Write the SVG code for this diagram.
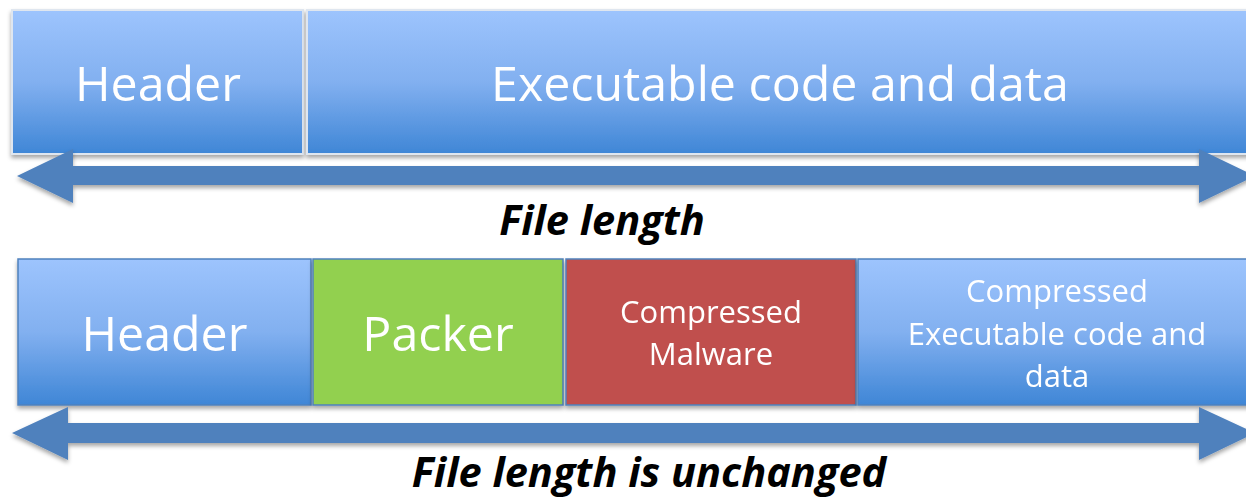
<svg xmlns="http://www.w3.org/2000/svg" width="1246" height="500" viewBox="0 0 1246 500">
  <defs>
    <linearGradient id="blueGrad" x1="0" y1="0" x2="0" y2="1">
      <stop offset="0" stop-color="#9dc4fd"/>
      <stop offset="0.5" stop-color="#82b0f0"/>
      <stop offset="1" stop-color="#3f86d6"/>
    </linearGradient>
    <filter id="shadow" x="-5%" y="-10%" width="110%" height="130%">
      <feDropShadow dx="0" dy="3" stdDeviation="2.2" flood-color="#000" flood-opacity="0.35"/>
    </filter>
    <style>
      .boxTop { fill: url(#blueGrad); stroke: #dfe6ef; stroke-width: 2; }
      .boxBlue { fill: url(#blueGrad); stroke: #4f81bd; stroke-width: 1.5; }
      .boxGreen { fill: #92d050; stroke: #4f81bd; stroke-width: 1.5; }
      .boxRed { fill: #c0504d; stroke: #4f81bd; stroke-width: 1.5; }
      .big { font-family: "Open Sans", "Liberation Sans", sans-serif; font-size: 48.3px; fill: #ffffff; text-anchor: middle; }
      .small { font-family: "Open Sans", "Liberation Sans", sans-serif; font-size: 31px; fill: #ffffff; text-anchor: middle; }
      .caption { font-family: "Open Sans", "Liberation Sans", sans-serif; font-size: 41.5px; font-weight: bold; font-style: italic; fill: #000000; text-anchor: middle; }
      .arrow { fill: #4f81bd; }
    </style>
  </defs>

  <g id="top-header" filter="url(#shadow)">
    <rect class="boxTop" x="12" y="10" width="291" height="144"/>
    <text class="big" x="158" y="101">Header</text>
  </g>
  <g id="top-executable" filter="url(#shadow)">
    <rect class="boxTop" x="307" y="10" width="946" height="144"/>
    <text class="big" x="780" y="101">Executable code and data</text>
  </g>

  <g id="bottom-header" filter="url(#shadow)">
    <rect class="boxBlue" x="18" y="259" width="293" height="146"/>
    <text class="big" x="164.5" y="351">Header</text>
  </g>
  <g id="bottom-packer" filter="url(#shadow)">
    <rect class="boxGreen" x="313" y="259" width="250" height="146"/>
    <text class="big" x="438" y="351">Packer</text>
  </g>
  <g id="bottom-malware" filter="url(#shadow)">
    <rect class="boxRed" x="566" y="259" width="290" height="146"/>
    <text class="small" x="711" y="323">Compressed</text>
    <text class="small" x="711" y="365">Malware</text>
  </g>
  <g id="bottom-executable" filter="url(#shadow)">
    <rect class="boxBlue" x="858" y="259" width="398" height="146"/>
    <text class="small" x="1057" y="302">Compressed</text>
    <text class="small" x="1057" y="345">Executable code and</text>
    <text class="small" x="1057" y="387">data</text>
  </g>

  <g id="connectors" filter="url(#shadow)">
    <polygon class="arrow" points="17,176 73,149 73,166 1199,166 1199,149 1255,176 1199,203 1199,185 73,185 73,203"/>
    <polygon class="arrow" points="12,433 68,407 68,423 1199,423 1199,407 1255,433 1199,460 1199,443 68,443 68,460"/>
  </g>

  <g id="captions">
    <text class="caption" x="602" y="235">File length</text>
    <text class="caption" x="649" y="487">File length is unchanged</text>
  </g>
</svg>
